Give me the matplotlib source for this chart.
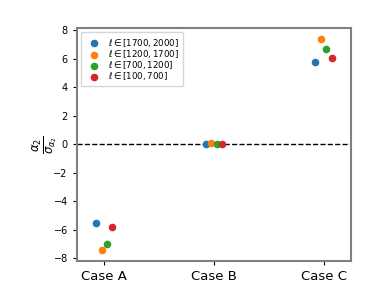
import numpy as np
import matplotlib.pyplot as plt

cases = ["Case A", "Case B", "Case C"]
labels = [r"$\ell \in [1700, 2000]$", r"$\ell \in [1200, 1700]$",
          r"$\ell \in [700, 1200]$", r"$\ell \in [100, 700]$"]
offsets = [-0.075, -0.025, 0.025, 0.075]
vals_1700 = [-5.52, 0.0, 5.73]
vals_1200 = [-7.46, 0.1, 7.35]
vals_700 = [-7.0, 0.0, 6.65]
vals_100 = [-5.8, 0.0, 6.05]
series = [vals_1700, vals_1200, vals_700, vals_100]
colors = ['tab:blue', 'tab:orange', 'tab:green', 'tab:red']

fig = plt.figure(figsize=(3.9, 2.9), dpi=100)
ax = fig.add_axes([0.197, 0.1, 0.703, 0.803])

x = np.arange(len(cases))
for vals, off, lab, c in zip(series, offsets, labels, colors):
    ax.scatter(x + off, vals, s=20, color=c, label=lab, zorder=3)

ax.axhline(0, color='k', ls='--', lw=1)
ax.set_xlim(-0.25, 2.25)
ax.set_ylim(-8.2, 8.14)
ax.set_yticks([-8, -6, -4, -2, 0, 2, 4, 6, 8])
ax.set_xticks(x)
ax.set_xticklabels(cases, fontsize=9.5)
ax.tick_params(axis='y', labelsize=7, length=3)
ax.tick_params(axis='x', length=3)
for s in ax.spines.values():
    s.set_color('gray')
    s.set_linewidth(1.5)
ax.set_ylabel(r"$\frac{\alpha_2}{\sigma_{\alpha_2}}$", fontsize=12, labelpad=-4)
ax.legend(loc='upper left', fontsize=6.2, handletextpad=0.6, labelspacing=-0.1,
          borderpad=0.5, handlelength=2.0)

fig.savefig("out.png", dpi=100)
